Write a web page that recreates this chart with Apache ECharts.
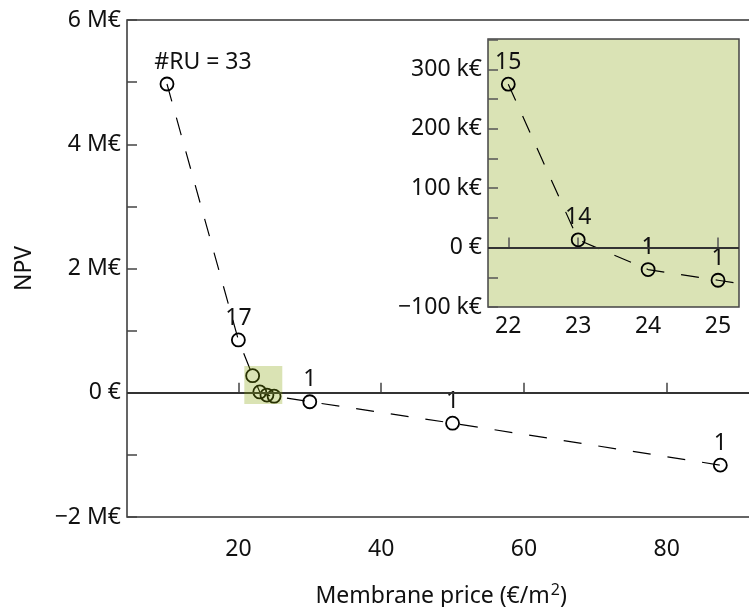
<!DOCTYPE html>
<html>
<head>
<meta charset="utf-8">
<script src="https://cdn.jsdelivr.net/npm/echarts@6/dist/echarts.min.js"></script>
<style>html,body{margin:0;padding:0;background:#fff}#c{width:749px;height:607px}</style>
</head>
<body>
<div id="c"></div>
<script>
// Data
const price = [10, 20, 22, 23, 24, 25, 30, 50, 87.5];
const npv = [4970000, 850000, 275000, 13000, -37000, -55000, -145000, -490000, -1165000];
const mainLabels = ['#RU = 33', '17', '', '', '', '', '1', '1', '1'];
const insetLabels = ['', '', '15', '14', '1', '1', '', '', ''];
const mainXTicks = [20, 40, 60, 80];
const insetXTicks = [22, 23, 24, 25];
const mainYLabels = {'6000000': '6 M€', '4000000': '4 M€', '2000000': '2 M€', '0': '0 €', '-2000000': '−2 M€'};
const insetYLabels = {'300000': '300 k€', '200000': '200 k€', '100000': '100 k€', '0': '0 €', '-100000': '−100 k€'};
const zoomRegion = [20.83, 430000, 26.15, -180000];

const FONT = 'Noto Sans';
const FS = 23;
const pts = price.map((x, i) => [x, npv[i]]);
const insetPts = pts.slice(2);
const insetLbl = insetLabels.slice(2);

const chart = echarts.init(document.getElementById('c'), null, {renderer: 'canvas'});

const zeroLine = {
  silent: true, symbol: 'none', label: {show: false},
  lineStyle: {color: '#333', width: 2, type: 'solid'},
  data: [{yAxis: 0}]
};

chart.setOption({
  animation: false,
  textStyle: {fontFamily: FONT},
  grid: [
    {left: 127, top: 20, right: -6.3, bottom: 90, outerBoundsMode: 'none', containLabel: false,
     show: true, borderColor: '#333', borderWidth: 1.5, backgroundColor: 'transparent'},
    {left: 488, top: 39, width: 251, height: 268, outerBoundsMode: 'none', containLabel: false,
     show: true, borderColor: '#444', borderWidth: 1.5, backgroundColor: '#dae3b5'}
  ],
  xAxis: [
    {gridIndex: 0, type: 'value', min: 4.4, max: 92.4,
     axisLine: {show: false}, splitLine: {show: false},
     axisTick: {show: true, inside: true, length: 10, customValues: mainXTicks, lineStyle: {color: '#444', width: 1.5}},
     axisLabel: {customValues: mainXTicks, color: '#111', fontSize: FS, margin: 21, fontFamily: FONT},
     name: '{a|Membrane price (€/m}{s|2}{a|)}', nameLocation: 'middle', nameGap: 65,
     nameTextStyle: {fontSize: FS, color: '#111', fontFamily: FONT,
       rich: {a: {fontSize: FS, color: '#111', fontFamily: FONT},
              s: {fontSize: 16, color: '#111', fontFamily: FONT, verticalAlign: 'bottom', padding: [0, 0, 12, 1]}}}},
    {gridIndex: 1, type: 'value', min: 21.71, max: 25.3,
     axisLine: {show: false}, splitLine: {show: false},
     axisTick: {show: true, inside: true, length: 10, customValues: insetXTicks, lineStyle: {color: '#555', width: 1.5}},
     axisLabel: {customValues: insetXTicks, color: '#111', fontSize: FS, margin: 8, fontFamily: FONT}}
  ],
  yAxis: [
    {gridIndex: 0, type: 'value', min: -2000000, max: 6000000, interval: 1000000,
     axisLine: {show: false}, splitLine: {show: false},
     axisTick: {show: true, inside: true, length: 10, lineStyle: {color: '#444', width: 1.5}},
     axisLabel: {color: '#111', fontSize: FS, margin: 6, fontFamily: FONT,
       formatter: v => mainYLabels[String(v)] || ''},
     name: 'NPV', nameLocation: 'middle', nameGap: 91,
     nameTextStyle: {fontSize: FS, color: '#111', fontFamily: FONT}},
    {gridIndex: 1, type: 'value', min: -100000, max: 351000, interval: 50000,
     axisLine: {show: false}, splitLine: {show: false},
     axisTick: {show: true, inside: true, length: 10, lineStyle: {color: '#555', width: 1.5}},
     axisLabel: {color: '#111', fontSize: FS, margin: 6, showMaxLabel: false, fontFamily: FONT,
       formatter: v => insetYLabels[String(v)] || ''}}
  ],
  series: [
    {type: 'line', xAxisIndex: 0, yAxisIndex: 0, data: pts, z: 3,
     symbol: 'circle', symbolSize: 13, clip: true,
     itemStyle: {color: 'rgba(0,0,0,0)', borderColor: '#000', borderWidth: 1.8},
     lineStyle: {color: '#000', width: 1.2, type: [18, 17]},
     label: {show: true, position: 'top', distance: 3, fontSize: FS, color: '#111', fontFamily: FONT,
       formatter: p => mainLabels[p.dataIndex]},
     labelLayout: p => p.dataIndex === 0 ? {dx: 36} : {},
     markLine: zeroLine},
    {type: 'custom', xAxisIndex: 0, yAxisIndex: 0, z: 10, silent: true,
     data: [zoomRegion],
     renderItem: (params, api) => {
       const a = api.coord([api.value(0), api.value(1)]);
       const b = api.coord([api.value(2), api.value(3)]);
       return {type: 'rect', shape: {x: a[0], y: a[1], width: b[0] - a[0], height: b[1] - a[1]},
               style: {fill: 'rgba(132,162,8,0.3)'}};
     }},
    {type: 'line', xAxisIndex: 1, yAxisIndex: 1, data: insetPts, z: 3,
     symbol: 'circle', symbolSize: 13, clip: true,
     itemStyle: {color: 'rgba(0,0,0,0)', borderColor: '#000', borderWidth: 1.8},
     lineStyle: {color: '#000', width: 1.2, type: [18, 17]},
     label: {show: true, position: 'top', distance: 3, fontSize: FS, color: '#111', fontFamily: FONT,
       formatter: p => insetLbl[p.dataIndex]},
     markLine: zeroLine}
  ]
});
</script>
</body>
</html>
